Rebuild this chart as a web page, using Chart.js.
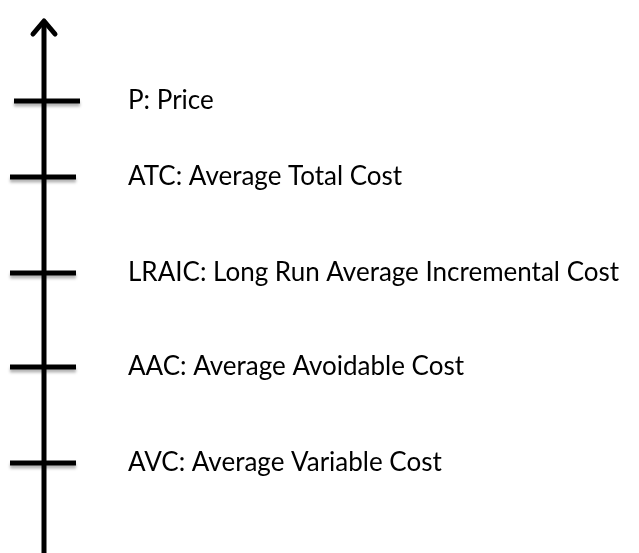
<!DOCTYPE html>
<html>
<head>
<meta charset="utf-8">
<script src="https://cdn.jsdelivr.net/npm/chart.js@4.4.0/dist/chart.umd.min.js"></script>
<style>
  html, body { margin: 0; padding: 0; background: #fff; }
  #wrap { width: 639px; height: 553px; }
</style>
</head>
<body>
<div id="wrap"><canvas id="chart"></canvas></div>
<script>
// levels on the vertical axis (from top to bottom)
const labels = ["P: Price", "ATC: Average Total Cost", "LRAIC: Long Run Average Incremental Cost", "AAC: Average Avoidable Cost", "AVC: Average Variable Cost"];
const levels = [452, 376, 280, 186, 90];
const tickX = [47, 43, 43, 43, 43];

// the vertical axis with its arrow head
const axisX = 44;
const axisBottom = 0;
const axisTop = 532;
const arrowX = [33, 44, 55];
const arrowY = [519, 532, 519];

const tickPoints = levels.map((v, i) => ({x: tickX[i], y: v}));

// draws the label text next to each tick
const labelPlugin = {
    id: 'levelLabels',
    beforeDatasetDraw(chart, args){
        // soft shadow under the tick marks
        if(args.index === 2){
            chart.ctx.save();
            chart.ctx.shadowColor = 'rgba(0,0,0,0.3)';
            chart.ctx.shadowOffsetY = 3;
            chart.ctx.shadowBlur = 3;
        }
    },
    afterDatasetDraw(chart, args){
        if(args.index === 2){
            chart.ctx.restore();
        }
    },
    afterDatasetsDraw(chart){
        const ctx = chart.ctx;
        const xs = chart.scales.x;
        const ys = chart.scales.y;
        ctx.save();
        ctx.fillStyle = '#000';
        ctx.font = '26px Lato';
        ctx.textBaseline = 'middle';
        ctx.textAlign = 'left';
        levels.forEach((v, i) => {
            ctx.fillText(labels[i], xs.getPixelForValue(128), ys.getPixelForValue(v));
        });
        ctx.restore();
    }
};

const datas = {
    datasets: [
        {
            type: 'line',
            data: [{x: axisX, y: axisBottom}, {x: axisX, y: axisTop}],
            borderColor: '#000',
            borderWidth: 5,
            pointRadius: 0,
            clip: false
        },
        {
            type: 'line',
            data: arrowX.map((x, i) => ({x: x, y: arrowY[i]})),
            borderColor: '#000',
            borderWidth: 5,
            borderCapStyle: 'round',
            borderJoinStyle: 'round',
            pointRadius: 0,
            clip: false
        },
        {
            type: 'scatter',
            data: tickPoints,
            pointStyle: 'line',
            pointRadius: 33,
            borderColor: '#000',
            backgroundColor: '#000',
            borderWidth: 5,
            clip: false
        }
    ]
};

const config = {
    data: datas,
    options: {
        responsive: true,
        maintainAspectRatio: false,
        animation: false,
        layout: { padding: 0, autoPadding: false },
        plugins: {
            legend: { display: false },
            tooltip: { enabled: false }
        },
        scales: {
            x: { type: 'linear', min: 0, max: 639, display: false },
            y: { type: 'linear', min: 0, max: 553, display: false }
        }
    },
    plugins: [labelPlugin]
};

const myChart = new Chart(document.getElementById('chart'), config);
</script>
</body>
</html>
